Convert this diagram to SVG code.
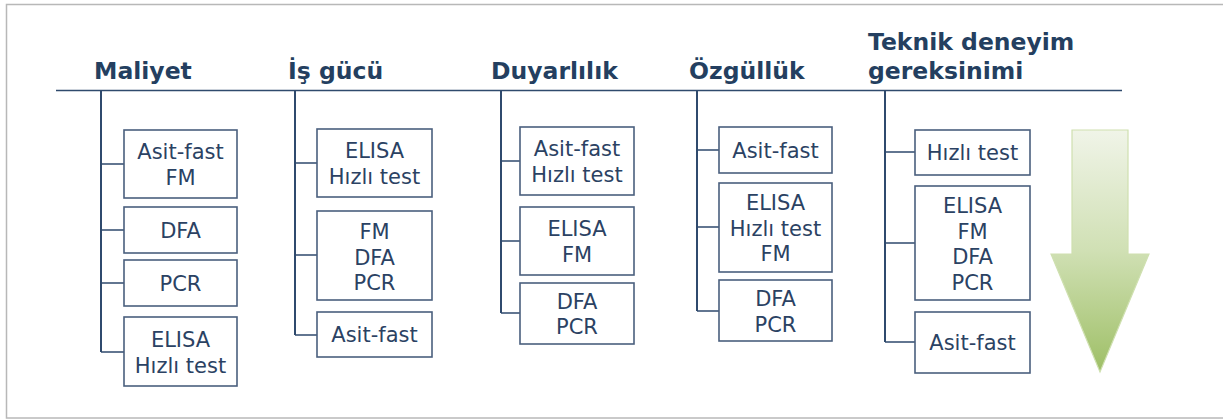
<svg xmlns="http://www.w3.org/2000/svg" width="1223" height="419" viewBox="0 0 1223 419">
  <defs>
    <linearGradient id="arrowFill" x1="0" y1="0" x2="0" y2="1">
      <stop offset="0" stop-color="#f0f4e8"/>
      <stop offset="0.5" stop-color="#d0e0b4"/>
      <stop offset="1" stop-color="#9ebf66"/>
    </linearGradient>
  </defs>
  <style>
    .frame { fill: none; stroke: #b8b8b8; stroke-width: 1.5; }
    .head { font-family: "DejaVu Sans", Verdana, sans-serif; font-weight: bold; font-size: 23.5px; fill: #243f60; }
    .box rect { fill: #ffffff; stroke: #4a5f7e; stroke-width: 1.6; }
    .box text { font-family: "DejaVu Sans", Verdana, sans-serif; font-size: 21px; fill: #2b4263; text-anchor: middle; }
    .conn path { fill: none; stroke: #2f4a6d; stroke-width: 1.5; }
    .conn .trunk { stroke-width: 2; }
  </style>

  <rect class="frame" x="6.5" y="4.5" width="1230" height="413.5"/>

  <!-- column headings -->
  <g id="headings">
    <text class="head" x="94" y="79">Maliyet</text>
    <text class="head" x="288" y="79">İş gücü</text>
    <text class="head" x="491" y="79">Duyarlılık</text>
    <text class="head" x="689" y="79">Özgüllük</text>
    <text class="head" x="868" y="50">Teknik deneyim</text>
    <text class="head" x="868" y="79">gereksinimi</text>
  </g>

  <!-- connectors: heading rule, column trunks and branches -->
  <g id="connectors" class="conn">
    <path d="M56 90.5H1122"/>
    <path class="trunk" d="M101 91V352"/>
    <path d="M101 164H124M101 230H124M101 283H124M101 352H124"/>
    <path class="trunk" d="M295 91V335"/>
    <path d="M295 163H317M295 255H317M295 335H317"/>
    <path class="trunk" d="M501 91V313"/>
    <path d="M501 161H520M501 241H520M501 313H520"/>
    <path class="trunk" d="M697 91V311"/>
    <path d="M697 150H719M697 227H719M697 311H719"/>
    <path class="trunk" d="M885 91V342"/>
    <path d="M885 152H915M885 243H915M885 342H915"/>
  </g>

  <!-- Maliyet -->
  <g id="maliyet-1" class="box"><rect x="124" y="130" width="113" height="68"/><text x="180.5" y="159">Asit-fast</text><text x="180.5" y="185">FM</text></g>
  <g id="maliyet-2" class="box"><rect x="124" y="207" width="113" height="46"/><text x="180.5" y="237.5">DFA</text></g>
  <g id="maliyet-3" class="box"><rect x="124" y="260" width="113" height="46"/><text x="180.5" y="290.5">PCR</text></g>
  <g id="maliyet-4" class="box"><rect x="124" y="317" width="113" height="69"/><text x="180.5" y="347">ELISA</text><text x="180.5" y="373">Hızlı test</text></g>

  <!-- İş gücü -->
  <g id="isgucu-1" class="box"><rect x="317" y="129" width="115" height="68"/><text x="374.5" y="158">ELISA</text><text x="374.5" y="184">Hızlı test</text></g>
  <g id="isgucu-2" class="box"><rect x="317" y="211" width="115" height="89"/><text x="374.5" y="239">FM</text><text x="374.5" y="264.5">DFA</text><text x="374.5" y="290">PCR</text></g>
  <g id="isgucu-3" class="box"><rect x="317" y="312" width="115" height="45"/><text x="374.5" y="342">Asit-fast</text></g>

  <!-- Duyarlılık -->
  <g id="duyarlilik-1" class="box"><rect x="520" y="127" width="114" height="68"/><text x="577" y="156">Asit-fast</text><text x="577" y="182">Hızlı test</text></g>
  <g id="duyarlilik-2" class="box"><rect x="520" y="207" width="114" height="68"/><text x="577" y="236">ELISA</text><text x="577" y="262">FM</text></g>
  <g id="duyarlilik-3" class="box"><rect x="520" y="283" width="114" height="61"/><text x="577" y="308.5">DFA</text><text x="577" y="334">PCR</text></g>

  <!-- Özgüllük -->
  <g id="ozgulluk-1" class="box"><rect x="719" y="127" width="113" height="46"/><text x="775.5" y="157.5">Asit-fast</text></g>
  <g id="ozgulluk-2" class="box"><rect x="719" y="183" width="113" height="89"/><text x="775.5" y="210">ELISA</text><text x="775.5" y="235.5">Hızlı test</text><text x="775.5" y="261">FM</text></g>
  <g id="ozgulluk-3" class="box"><rect x="719" y="280" width="113" height="61"/><text x="775.5" y="306">DFA</text><text x="775.5" y="331.5">PCR</text></g>

  <!-- Teknik deneyim gereksinimi -->
  <g id="teknik-1" class="box"><rect x="915" y="130" width="115" height="45"/><text x="972.5" y="160">Hızlı test</text></g>
  <g id="teknik-2" class="box"><rect x="915" y="186" width="115" height="114"/><text x="972.5" y="213">ELISA</text><text x="972.5" y="238.5">FM</text><text x="972.5" y="264">DFA</text><text x="972.5" y="289.5">PCR</text></g>
  <g id="teknik-3" class="box"><rect x="915" y="312" width="115" height="61"/><text x="972.5" y="350">Asit-fast</text></g>

  <!-- ranking direction arrow -->
  <g id="rank-arrow">
    <path d="M1072 130H1128V254H1149L1100 372L1051 254H1072Z" fill="url(#arrowFill)" stroke="#cfe0b0" stroke-width="1.2"/>
  </g>
</svg>
